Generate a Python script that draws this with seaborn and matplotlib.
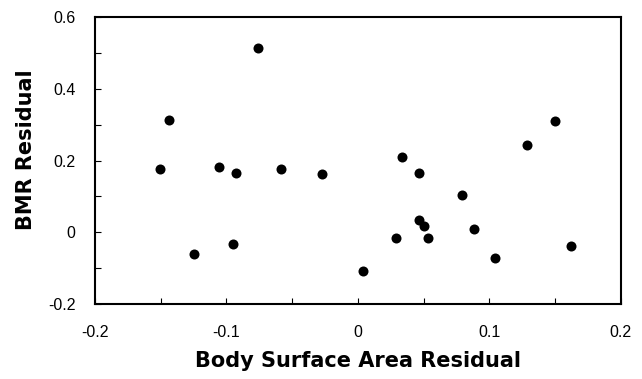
import matplotlib
matplotlib.use("Agg")
import matplotlib.pyplot as plt
import seaborn as sns
import pandas as pd
from matplotlib.ticker import MultipleLocator

bsa_residual = [-0.1505, -0.144, -0.1246, -0.1056, -0.0947, -0.0925, -0.076, -0.0583,
                -0.0274, 0.0037, 0.029, 0.0336, 0.0464, 0.0467, 0.050, 0.0533,
                0.0791, 0.0882, 0.1044, 0.1287, 0.1498, 0.162]
bmr_residual = [0.177, 0.313, -0.060, 0.183, -0.033, 0.164, 0.513, 0.175,
                0.163, -0.109, -0.016, 0.211, 0.166, 0.035, 0.017, -0.017,
                0.103, 0.009, -0.071, 0.243, 0.309, -0.038]
x_ticks = [-0.2, -0.1, 0, 0.1, 0.2]
x_tick_labels = ["-0.2", "-0.1", "0", "0.1", "0.2"]
y_ticks = [-0.2, 0, 0.2, 0.4, 0.6]
y_tick_labels = ["-0.2", "0", "0.2", "0.4", "0.6"]

df = pd.DataFrame({"x": bsa_residual, "y": bmr_residual})

sns.set_style("white")
plt.rcParams["font.family"] = ["Liberation Sans", "DejaVu Sans"]
plt.rcParams["text.color"] = "black"
plt.rcParams["axes.labelcolor"] = "black"
plt.rcParams["xtick.color"] = "black"
plt.rcParams["ytick.color"] = "black"

fig = plt.figure(figsize=(6.42, 3.79), dpi=100)
ax = fig.add_axes([0.148, 0.198, 0.819, 0.757])
sns.scatterplot(data=df, x="x", y="y", ax=ax, color="black", s=52,
                edgecolor="black", linewidth=0)

ax.set_xlim(-0.2, 0.2)
ax.set_ylim(-0.2, 0.6)
ax.set_xticks(x_ticks)
ax.set_xticklabels(x_tick_labels)
ax.set_yticks(y_ticks)
ax.set_yticklabels(y_tick_labels)
ax.xaxis.set_minor_locator(MultipleLocator(0.05))
ax.yaxis.set_minor_locator(MultipleLocator(0.1))
ax.tick_params(which="both", direction="in", length=4, width=0.8, color="black",
               bottom=True, left=True, top=False, right=False)
ax.tick_params(axis="both", which="major", labelsize=11.5, labelcolor="black")
ax.tick_params(axis="x", which="major", pad=15)
ax.tick_params(axis="y", which="major", pad=14)

for side in ["left", "bottom", "top", "right"]:
    ax.spines[side].set_linewidth(1.5)
    ax.spines[side].set_color("black")

ax.set_xlabel("Body Surface Area Residual", fontsize=15, fontweight="bold",
              family="DejaVu Sans", labelpad=8, color="black")
ax.set_ylabel("BMR Residual", fontsize=15, fontweight="bold",
              family="DejaVu Sans", labelpad=12, color="black")
ax.yaxis.set_label_coords(-0.112, 0.537)

fig.savefig("out.png", dpi=100)
